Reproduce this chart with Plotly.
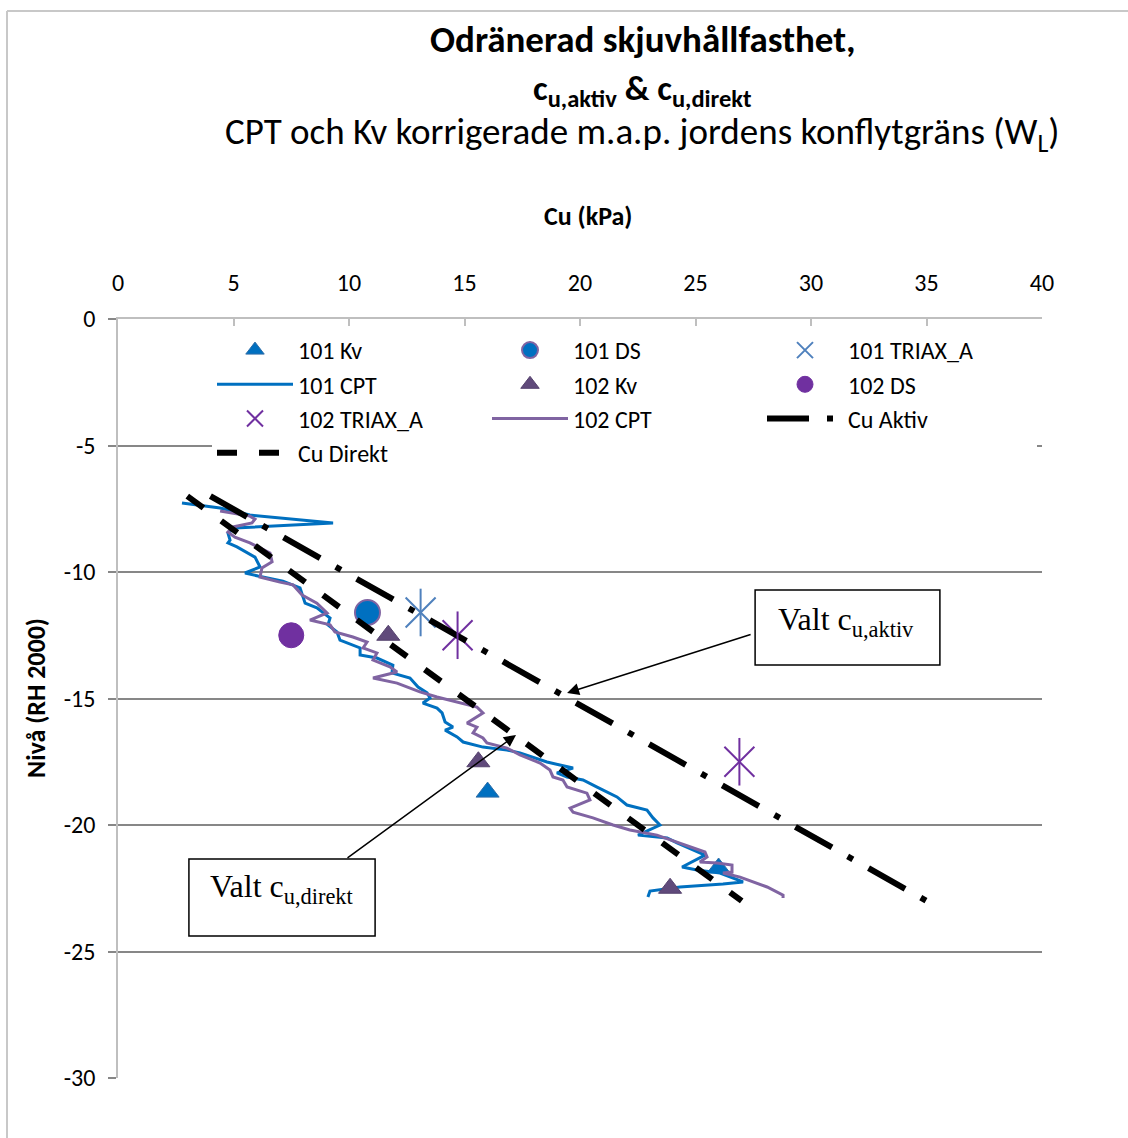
import plotly.graph_objects as go

# ---------------- data ----------------
# Field vane (Kv), corrected, borehole 101 / 102  (Cu kPa, level m RH 2000)
kv101_cu = [16.0, 26.0]
kv101_lvl = [-18.7, -21.7]
kv102_cu = [11.7, 15.6, 23.9]
kv102_lvl = [-12.5, -17.5, -22.5]

# Direct shear (DS)
ds101_cu = [10.8]
ds101_lvl = [-11.6]
ds102_cu = [7.5]
ds102_lvl = [-12.5]

# Active triaxial (TRIAX_A)
tx101_cu = [13.1]
tx101_lvl = [-11.6]
tx102_cu = [14.7, 26.9]
tx102_lvl = [-12.5, -17.5]

# CPT 101, corrected w.r.t. liquid limit
cpt101_cu = [2.77, 4.42, 5.71, 9.31, 5.06, 4.76, 4.85, 4.76, 5.15, 5.93, 6.15, 5.50,
             6.06, 7.14, 7.88, 8.10, 8.61, 9.18, 9.09, 9.48, 9.61, 10.48, 10.48, 11.21,
             11.90, 11.86, 12.64, 12.99, 13.38, 13.51, 13.20, 13.81, 14.03, 14.16, 14.50,
             14.16, 14.68, 14.94, 15.80, 16.84, 17.40, 18.57, 19.70, 19.00, 19.44, 20.13,
             20.74, 21.60, 22.03, 22.90, 23.16, 23.46, 22.51, 23.77, 24.20, 25.06, 25.41,
             24.42, 25.06, 26.06, 27.06, 26.19, 24.33, 23.03, 22.94]
cpt101_lvl = [-7.27, -7.47, -7.75, -8.06, -8.26, -8.46, -8.74, -8.85, -9.01, -9.41, -9.80,
              -10.04, -10.16, -10.36, -10.63, -11.23, -11.42, -11.82, -12.09, -12.37,
              -12.69, -13.00, -13.28, -13.40, -13.68, -13.99, -14.19, -14.55, -14.78,
              -14.98, -15.18, -15.38, -15.57, -15.93, -16.13, -16.25, -16.52, -16.72,
              -16.92, -17.04, -17.15, -17.51, -17.75, -17.94, -18.10, -18.22, -18.50,
              -18.89, -19.21, -19.41, -19.72, -20.00, -20.40, -20.51, -20.71, -21.07,
              -21.19, -21.66, -21.78, -21.90, -22.25, -22.33, -22.45, -22.61, -22.85]

# CPT 102, corrected w.r.t. liquid limit
cpt102_cu = [4.42, 4.98, 5.71, 5.93, 5.80, 4.98, 4.76, 5.06, 5.71, 6.58, 6.67, 6.23,
             6.15, 7.01, 7.58, 7.97, 8.61, 9.05, 8.31, 9.18, 9.39, 10.17, 10.78, 10.61,
             11.21, 11.04, 11.77, 12.08, 11.04, 12.08, 13.07, 13.81, 14.68, 15.54, 15.80,
             15.11, 15.54, 15.37, 15.80, 15.97, 16.84, 17.40, 18.27, 18.70, 18.83, 19.26,
             19.44, 20.30, 20.43, 19.57, 19.70, 20.56, 21.43, 22.16, 23.33, 24.20, 24.89,
             25.41, 25.50, 25.19, 25.93, 26.58, 26.58, 26.19, 26.93, 28.10, 28.79, 28.79]
cpt102_lvl = [-7.59, -7.67, -7.79, -7.91, -8.06, -8.22, -8.42, -8.62, -8.85, -9.25, -9.60,
              -9.84, -10.20, -10.40, -10.51, -10.91, -11.23, -11.62, -11.90, -12.09,
              -12.37, -12.57, -12.77, -13.00, -13.20, -13.48, -13.75, -13.95, -14.19,
              -14.39, -14.74, -14.94, -15.14, -15.34, -15.57, -15.97, -16.13, -16.36,
              -16.56, -16.76, -16.96, -17.23, -17.55, -17.83, -18.10, -18.22, -18.50,
              -18.74, -19.01, -19.33, -19.49, -19.72, -20.00, -20.20, -20.40, -20.67,
              -20.91, -21.07, -21.26, -21.46, -21.50, -21.58, -21.86, -21.90, -22.06,
              -22.45, -22.77, -22.89]

# Chosen design profiles
aktiv_cu = [4.0, 35.0]
aktiv_lvl = [-7.0, -23.0]
direkt_cu = [3.0, 27.0]
direkt_lvl = [-7.0, -23.0]

# Axis ticks
x_ticks = [0, 5, 10, 15, 20, 25, 30, 35, 40]
y_ticks = [0, -5, -10, -15, -20, -25, -30]
y_tick_text = ["0", "-5", "-10", "-15", "-20", "-25", "-30"]

# ---------------- styling ----------------
SANS = "Carlito, Calibri, Lato, sans-serif"
SERIF = "Liberation Serif, Times New Roman, serif"
BLUE = "#0070C0"
PURPLE_CPT = "#8064A2"
KV102 = "#604A7B"
DS102 = "#7030A0"
TX101 = "#4F81BD"
TX102 = "#7030A0"
GRID = "#878787"
AXIS = "#BFBFBF"

W, H = 1128, 1138
L, R, T, B = 118, 86, 319, 60
PW, PH = W - L - R, H - T - B


def px_x(p):
    return (p - L) / PW


def px_y(p):
    return (H - B - p) / PH


fig = go.Figure()

fig.add_trace(go.Scatter(x=kv101_cu, y=kv101_lvl, mode="markers", name="101 Kv",
                         marker=dict(symbol="triangle-up", size=20, color=BLUE,
                                     line=dict(color="#2F6EA8", width=1))))
fig.add_trace(go.Scatter(x=ds101_cu, y=ds101_lvl, mode="markers", name="101 DS",
                         marker=dict(symbol="circle", size=25, color=BLUE,
                                     line=dict(color=PURPLE_CPT, width=2))))
fig.add_trace(go.Scatter(x=tx101_cu, y=tx101_lvl, mode="markers", name="101 TRIAX_A",
                         legendgroup="tx101",
                         marker=dict(symbol="x-thin-open", size=30, color=TX101,
                                     line=dict(color=TX101, width=2))))
fig.add_trace(go.Scatter(x=cpt101_cu, y=cpt101_lvl, mode="lines", name="101 CPT",
                         line=dict(color=BLUE, width=3)))
fig.add_trace(go.Scatter(x=kv102_cu, y=kv102_lvl, mode="markers", name="102 Kv",
                         marker=dict(symbol="triangle-up", size=20, color=KV102,
                                     line=dict(color="#56436E", width=1))))
fig.add_trace(go.Scatter(x=ds102_cu, y=ds102_lvl, mode="markers", name="102 DS",
                         marker=dict(symbol="circle", size=25, color=DS102,
                                     line=dict(color=DS102, width=1))))
fig.add_trace(go.Scatter(x=tx102_cu, y=tx102_lvl, mode="markers", name="102 TRIAX_A",
                         legendgroup="tx102",
                         marker=dict(symbol="x-thin-open", size=30, color=TX102,
                                     line=dict(color=TX102, width=2))))
fig.add_trace(go.Scatter(x=cpt102_cu, y=cpt102_lvl, mode="lines", name="102 CPT",
                         line=dict(color=PURPLE_CPT, width=3)))
fig.add_trace(go.Scatter(x=aktiv_cu, y=aktiv_lvl, mode="lines", name="Cu Aktiv",
                         line=dict(color="black", width=6, dash="42px,18px,6px,18px")))
fig.add_trace(go.Scatter(x=direkt_cu, y=direkt_lvl, mode="lines", name="Cu Direkt",
                         line=dict(color="black", width=6, dash="20px,22px")))

# vertical arms of the star markers
fig.add_trace(go.Scatter(x=tx101_cu, y=tx101_lvl, mode="markers", legendgroup="tx101",
                         showlegend=False, hoverinfo="skip",
                         marker=dict(symbol="line-ns-open", size=34, color=TX101,
                                     line=dict(color=TX101, width=2))))
fig.add_trace(go.Scatter(x=tx102_cu, y=tx102_lvl, mode="markers", legendgroup="tx102",
                         showlegend=False, hoverinfo="skip",
                         marker=dict(symbol="line-ns-open", size=34, color=TX102,
                                     line=dict(color=TX102, width=2))))

# ---------------- annotations ----------------
ann = []
ann.append(dict(text="<b>Odränerad skjuvhållfasthet,</b>", xref="paper", yref="paper",
                x=px_x(643), y=px_y(40), xanchor="center", yanchor="middle",
                showarrow=False, font=dict(family=SANS, size=37, color="black")))
# second and third title lines share one text block
ann.append(dict(text=("<b><span style='font-size:35px'>c<sub>u,aktiv</sub> & "
                      "c<sub>u,direkt</sub></span></b><br>"
                      "<span style='font-size:37px'>CPT och Kv korrigerade m.a.p. "
                      "jordens konflytgräns (W<sub>L</sub>)</span>"),
                xref="paper", yref="paper", x=px_x(642), y=px_y(113), xanchor="center",
                yanchor="middle", align="center", showarrow=False,
                font=dict(family=SANS, size=34, color="black")))
ann.append(dict(text="<b>Cu (kPa)</b>", xref="paper", yref="paper", x=px_x(588),
                y=px_y(216), xanchor="center", yanchor="middle", showarrow=False,
                font=dict(family=SANS, size=26, color="black")))
ann.append(dict(text="<b>Nivå (RH 2000)</b>", xref="paper", yref="paper", x=px_x(36),
                y=px_y(698), xanchor="center", yanchor="middle", textangle=-90,
                showarrow=False, font=dict(family=SANS, size=26, color="black")))

# callout arrows
ann.append(dict(x=19.44, y=-14.78, ax=27.45, ay=-12.45, axref="x", ayref="y",
                xref="x", yref="y", text="", showarrow=True, arrowhead=2,
                arrowsize=1.6, arrowwidth=1.5, arrowcolor="black"))
ann.append(dict(x=17.23, y=-16.44, ax=9.87, ay=-21.34, axref="x", ayref="y",
                xref="x", yref="y", text="", showarrow=True, arrowhead=2,
                arrowsize=1.6, arrowwidth=1.5, arrowcolor="black"))
# callout texts
ann.append(dict(text="Valt c<sub>u,aktiv</sub>", xref="x", yref="y", x=28.5, y=-11.95,
                xanchor="left", yanchor="middle", showarrow=False,
                font=dict(family=SERIF, size=32, color="black")))
ann.append(dict(text="Valt c<sub>u,direkt</sub>", xref="x", yref="y", x=3.9, y=-22.5,
                xanchor="left", yanchor="middle", showarrow=False,
                font=dict(family=SERIF, size=32, color="black")))

shapes = [
    # callout boxes
    dict(type="rect", xref="x", yref="y", x0=27.58, x1=35.58, y0=-13.68, y1=-10.71,
         line=dict(color="black", width=1.5), fillcolor="white", layer="above"),
    dict(type="rect", xref="x", yref="y", x0=3.07, x1=11.13, y0=-24.39, y1=-21.34,
         line=dict(color="black", width=1.5), fillcolor="white", layer="above"),
    # chart frame (top and left edges)
    dict(type="line", xref="paper", yref="paper", x0=px_x(7), x1=px_x(1128),
         y0=px_y(11), y1=px_y(11), line=dict(color="#C8C8C8", width=2)),
    dict(type="line", xref="paper", yref="paper", x0=px_x(7), x1=px_x(7),
         y0=px_y(11), y1=px_y(1138), line=dict(color="#C8C8C8", width=2)),
]

fig.update_layout(
    width=W, height=H,
    margin=dict(l=L, r=R, t=T, b=B, autoexpand=False),
    paper_bgcolor="white", plot_bgcolor="white",
    font=dict(family=SANS, size=20, color="black"),
    showlegend=True,
    legend=dict(orientation="h", xref="container", yref="container",
                x=212 / W, y=1 - 328 / H, xanchor="left", yanchor="top",
                entrywidth=184, itemwidth=76, bgcolor="white",
                font=dict(family=SANS, size=24, color="black"),
                traceorder="normal"),
    annotations=ann,
    shapes=shapes,
)

fig.update_xaxes(range=[0, 40], side="top", tickvals=x_ticks, showgrid=False,
                 zeroline=False, showline=True, linecolor=AXIS, linewidth=1.5,
                 ticks="inside", ticklen=7, tickcolor=AXIS, tickwidth=1.5,
                 ticklabelstandoff=17, tickfont=dict(family=SANS, size=24, color="black"),
                 mirror=False)
fig.update_yaxes(range=[-30, 0], tickvals=y_ticks, ticktext=y_tick_text, showgrid=True,
                 gridcolor=GRID, gridwidth=2, zeroline=False, showline=True,
                 linecolor=AXIS, linewidth=1.5, ticks="outside", ticklen=8,
                 tickcolor=GRID, tickwidth=2, ticklabelstandoff=8,
                 tickfont=dict(family=SANS, size=24, color="black"))

fig.write_html("out.html")
